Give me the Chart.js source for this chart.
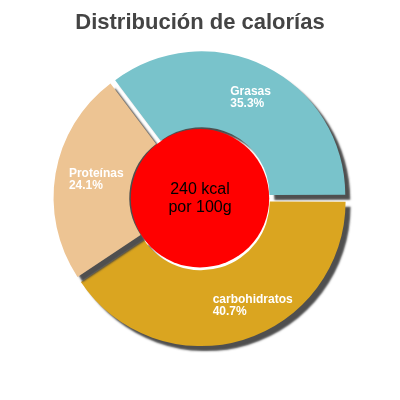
<!DOCTYPE html>
<html>
<head>
<meta charset="utf-8">
<script src="https://cdn.jsdelivr.net/npm/chart.js@4"></script>
<style>
  body { margin: 0; background: #fff; }
  #wrap { width: 400px; height: 400px; }
</style>
</head>
<body>
<div id="wrap"><canvas id="chart"></canvas></div>
<script>
const labels = ['Grasas', 'carbohidratos', 'Proteínas'];
const values = [35.3, 40.7, 24.1];
const colors = ['#79c3cb', '#daa520', '#edc493'];
const centerText = ['240 kcal', 'por 100g'];

// shadow behind slices
const shadowPlugin = {
    id: 'shadow',
    beforeDatasetDraw(chart) {
        const ctx = chart.ctx;
        ctx.save();
        ctx.shadowColor = 'rgba(60,60,60,0.9)';
        ctx.shadowOffsetX = 5;
        ctx.shadowOffsetY = 5;
        ctx.shadowBlur = 2;
    },
    afterDatasetDraw(chart) {
        chart.ctx.restore();
    }
};

// slice labels + red center
const labelPlugin = {
    id: 'labels',
    afterDatasetDraw(chart) {
        const ctx = chart.ctx;
        const arcs = chart.getDatasetMeta(0).data;
        ctx.save();
        arcs.forEach((arc, i) => {
            const mid = (arc.startAngle + arc.endAngle) / 2;
            const r = arc.innerRadius + (arc.outerRadius - arc.innerRadius) * 0.6;
            const x = arc.x + Math.cos(mid) * r;
            const y = arc.y + Math.sin(mid) * r;
            ctx.fillStyle = '#fff';
            ctx.font = 'bold 12px "Liberation Sans", Arial, sans-serif';
            ctx.textAlign = 'left';
            ctx.textBaseline = 'middle';
            ctx.fillText(labels[i], x - 20, y - 6);
            ctx.fillText(values[i].toFixed(1) + '%', x - 20, y + 6);
        });
        const a = arcs[0];
        const cx = chart.chartArea.left + (chart.chartArea.right - chart.chartArea.left) / 2;
        const cy = chart.chartArea.top + (chart.chartArea.bottom - chart.chartArea.top) / 2;
        ctx.beginPath();
        ctx.arc(cx, cy, a.innerRadius + 2, 0, Math.PI * 2);
        ctx.fillStyle = '#ff0000';
        ctx.fill();
        ctx.fillStyle = '#000';
        ctx.font = '16px "Liberation Sans", Arial, sans-serif';
        ctx.textAlign = 'center';
        ctx.fillText(centerText[0], cx, cy - 9);
        ctx.fillText(centerText[1], cx, cy + 9);
        ctx.restore();
    }
};

new Chart(document.getElementById('chart'), {
    type: 'doughnut',
    data: {
        labels: labels,
        datasets: [{
            data: values,
            backgroundColor: colors,
            borderWidth: 0,
            offset: 14
        }]
    },
    options: {
        responsive: true,
        maintainAspectRatio: false,
        animation: false,
        rotation: -37,
        cutout: '47%',
        layout: { padding: { top: 6, bottom: 46, left: 50, right: 50 } },
        plugins: {
            legend: { display: false },
            tooltip: { enabled: false },
            title: {
                display: true,
                text: 'Distribución de calorías',
                color: '#444',
                font: { size: 22, weight: 'bold', family: '"Liberation Sans", Arial, sans-serif' },
                padding: { top: 4, bottom: 6 }
            }
        }
    },
    plugins: [shadowPlugin, labelPlugin]
});
</script>
</body>
</html>
